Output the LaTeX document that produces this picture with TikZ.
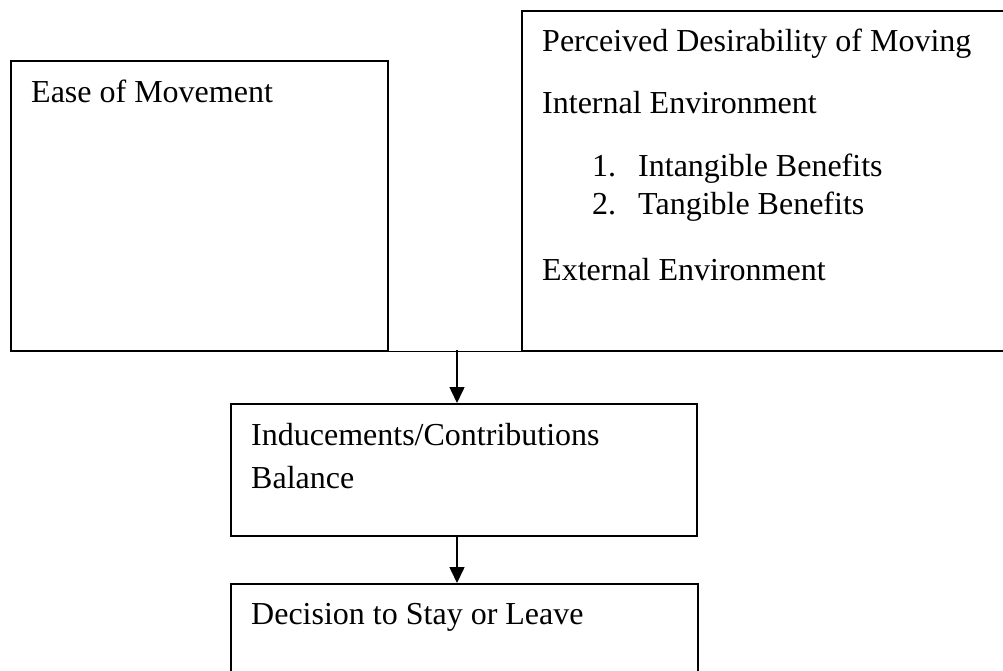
\documentclass[tikz,border=0pt]{standalone}
\usepackage{fontspec}
\setmainfont{Liberation Serif}
\usetikzlibrary{arrows.meta}

\tikzset{box/.style={draw,line width=1.6pt,rectangle,anchor=north west,inner sep=0pt}}
\tikzset{txt/.style={anchor=base west,inner sep=0pt,font=\fontsize{32}{37}\selectfont}}
\tikzset{flow/.style={line width=1.6pt,-{Triangle[length=16pt,width=15pt]}}}

\begin{document}
\begin{tikzpicture}[x=1pt,y=-1pt]
        \clip (0,0) rectangle (1003,671);
        % draw the two top boxes
        \node[box,minimum width=377pt,minimum height=290pt] (ease) at (10,60) {};
        \node[txt] (easetxt) at (31,103) {Ease of Movement};
        \node[box,minimum width=492pt,minimum height=340pt] (desire) at (521,10) {};
        \node[txt] (desiretxt) at (542,52) {Perceived Desirability of Moving};
        \node[txt] (internal) at (542,114) {Internal Environment};
        \node[txt] (num1) at (592,177) {1.};
        \node[txt] (intangible) at (638,177) {Intangible Benefits};
        \node[txt] (num2) at (592,214) {2.};
        \node[txt] (tangible) at (638,214) {Tangible Benefits};
        \node[txt] (external) at (542,280) {External Environment};
        % join them at the bottom
        \draw[line width=1.6pt] (ease.south east) -- (desire.south west);
        \coordinate (split) at (457,350);
        % draw the lower boxes
        \node[box,minimum width=466pt,minimum height=132pt] (balance) at (230,403) {};
        \node[txt] (balancetxt1) at (251,445) {Inducements/Contributions};
        \node[txt] (balancetxt2) at (251,488) {Balance};
        \node[box,minimum width=467pt,minimum height=120pt] (decide) at (230,583) {};
        \node[txt] (decidetxt) at (251,624) {Decision to Stay or Leave};
        % arrows
        \draw[flow] (split) -- (split |- balance.north);
        \draw[flow] ([yshift=2pt]balance.south -| split) -- (split |- decide.north);
\end{tikzpicture}
\end{document}
